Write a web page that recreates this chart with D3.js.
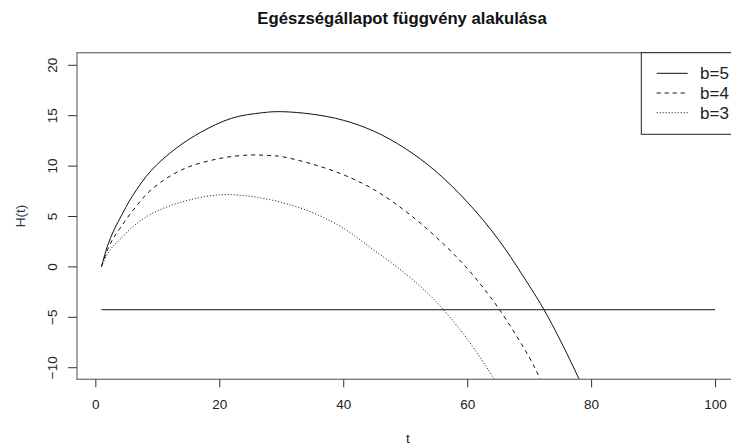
<!DOCTYPE html>
<html>
<head>
<meta charset="utf-8">
<script src="https://cdn.jsdelivr.net/npm/d3@7"></script>
<style>
  body { margin: 0; background: #fff; }
  svg { display: block; font-family: "Liberation Sans", Arial, sans-serif; }
</style>
</head>
<body>
<div id="chart"></div>
<script>
let width = 731;
let height = 448;

// values, H(t) for each b
const t5 = [1, 2, 3, 4, 6, 9, 13, 17, 22, 27, 30, 35, 40, 45, 50, 55, 60, 65, 70, 72.4, 75, 78, 80];
const h5 = [0, 2.1, 3.6, 4.8, 7.0, 9.5, 11.7, 13.3, 14.7, 15.25, 15.35, 15.1, 14.5, 13.4, 11.7, 9.4, 6.4, 2.7, -1.9, -4.3, -7.3, -11.1, -13.8];

const t4 = [1, 2, 3, 4, 6, 9, 14, 20, 25, 28, 30, 35, 40, 45, 50, 55, 60, 65, 70, 72, 74];
const h4 = [0, 1.7, 2.9, 3.8, 5.5, 7.6, 9.6, 10.7, 11.05, 11.0, 10.9, 10.15, 9.1, 7.6, 5.5, 2.9, -0.2, -4.1, -9.0, -11.4, -13.7];

const t3 = [1, 2, 3, 4, 6, 9, 14, 20, 25, 30, 35, 40, 45, 50, 55, 60, 64.4, 66];
const h3 = [0, 1.3, 2.1, 2.7, 3.9, 5.2, 6.4, 7.1, 6.95, 6.35, 5.35, 3.8, 1.6, -0.7, -3.5, -7.2, -11.2, -12.8];

const levelT = [1, 100];
const levelH = [-4.3, -4.3];

const xTicks = [0, 20, 40, 60, 80, 100];
const yTicks = [-10, -5, 0, 5, 10, 15, 20];
const legendLabels = ["b=5", "b=4", "b=3"];
const dashes = [null, "4,4", "1,2"];

let plotLeft = 77, plotRight = 739.6, plotTop = 52.7, plotBottom = 379.3;

let x = d3.scaleLinear().domain([-2.96, 103.96]).range([plotLeft, plotRight]);
let y = d3.scaleLinear().domain([-11.2, 21.2]).range([plotBottom, plotTop]);

let svg = d3.select("#chart")
  .append("svg")
  .attr("width", width)
  .attr("height", height);

svg.append("rect").attr("width", width).attr("height", height).attr("fill", "#fff");

svg.append("clipPath").attr("id", "plot-clip")
  .append("rect")
  .attr("x", plotLeft).attr("y", plotTop)
  .attr("width", plotRight - plotLeft).attr("height", plotBottom - plotTop);

let line = d3.line()
  .x(d => x(d[0]))
  .y(d => y(d[1]))
  .curve(d3.curveCatmullRom.alpha(0.5));

let series = [
  d3.zip(t5, h5),
  d3.zip(t4, h4),
  d3.zip(t3, h3)
];

let plot = svg.append("g").attr("clip-path", "url(#plot-clip)");

plot.selectAll("path.curve")
  .data(series)
  .enter().append("path")
  .attr("class", "curve")
  .attr("d", line)
  .attr("fill", "none")
  .attr("stroke", "#111")
  .attr("stroke-width", 1)
  .attr("stroke-dasharray", (d, i) => dashes[i]);

plot.append("path")
  .attr("d", d3.line().x(d => x(d[0])).y(d => y(d[1]))(d3.zip(levelT, levelH)))
  .attr("fill", "none")
  .attr("stroke", "#111")
  .attr("stroke-width", 1);

// box
svg.append("rect")
  .attr("x", plotLeft).attr("y", plotTop)
  .attr("width", plotRight - plotLeft).attr("height", plotBottom - plotTop)
  .attr("fill", "none")
  .attr("stroke", "#777")
  .attr("stroke-width", 1.3);

// x axis
let xAxis = svg.append("g")
  .attr("transform", `translate(0,${plotBottom})`)
  .call(d3.axisBottom(x).tickValues(xTicks).tickSize(8).tickPadding(12));
xAxis.select(".domain").remove();
xAxis.selectAll("line").attr("stroke", "#333");
xAxis.selectAll("text").attr("fill", "#222").style("font-size", "13.5px").style("font-family", "Liberation Sans, Arial, sans-serif");

// y axis, labels parallel to the axis like R
let yAxis = svg.append("g")
  .attr("transform", `translate(${plotLeft},0)`)
  .call(d3.axisLeft(y).tickValues(yTicks).tickSize(9));
yAxis.select(".domain").remove();
yAxis.selectAll("line").attr("stroke", "#333");
yAxis.selectAll("text")
  .attr("transform", "rotate(-90)")
  .attr("x", 0).attr("y", -20).attr("dy", 0)
  .attr("fill", "#222")
  .style("text-anchor", "middle")
  .style("font-size", "13.5px")
  .style("font-family", "Liberation Sans, Arial, sans-serif");

// titles
svg.append("text")
  .attr("x", 402).attr("y", 24)
  .attr("text-anchor", "middle")
  .style("font-size", "16.7px")
  .style("font-weight", "bold")
  .attr("fill", "#111")
  .text("Egészségállapot függvény alakulása");

svg.append("text")
  .attr("x", 408).attr("y", 443)
  .attr("text-anchor", "middle")
  .style("font-size", "13.5px")
  .attr("fill", "#222")
  .text("t");

svg.append("text")
  .attr("transform", `translate(25,${(plotTop + plotBottom) / 2}) rotate(-90)`)
  .attr("text-anchor", "middle")
  .style("font-size", "13.5px")
  .attr("fill", "#1f3a4f")
  .text("H(t)");

// legend
let legend = svg.append("g");
legend.append("rect")
  .attr("x", 641.3).attr("y", plotTop)
  .attr("width", 120).attr("height", 134.3 - plotTop)
  .attr("fill", "#fff")
  .attr("stroke", "#222")
  .attr("stroke-width", 1);

let rows = legend.selectAll("g.row")
  .data(legendLabels)
  .enter().append("g")
  .attr("class", "row")
  .attr("transform", (d, i) => `translate(0,${73.3 + i * 19.7})`);

rows.append("line")
  .attr("x1", 656.7).attr("x2", 687.7)
  .attr("y1", 0).attr("y2", 0)
  .attr("stroke", "#111")
  .attr("stroke-width", 1)
  .attr("stroke-dasharray", (d, i) => dashes[i]);

rows.append("text")
  .attr("x", 700).attr("y", 0).attr("dy", "0.35em")
  .style("font-size", "17px")
  .attr("fill", "#222")
  .text(d => d);
</script>
</body>
</html>
